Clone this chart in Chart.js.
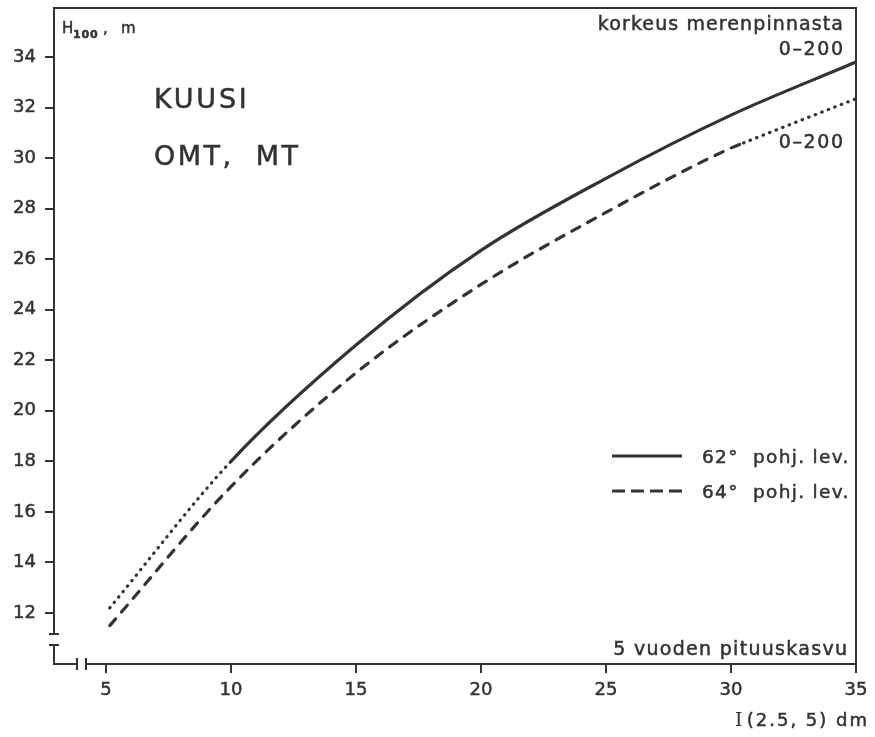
<!DOCTYPE html>
<html>
<head>
<meta charset="utf-8">
<script src="https://cdn.jsdelivr.net/npm/chart.js@4.4.1/dist/chart.umd.min.js"></script>
<style>
  html, body { margin: 0; padding: 0; background: #fff; }
  #wrap { width: 875px; height: 737px; }
</style>
</head>
<body>
<div id="wrap"><canvas id="kuusi"></canvas></div>
<script>
// I(2.5, 5) = 5 vuoden pituuskasvu (dm), H100 = valtapituus (m)
const lev62X = [5.15, 10, 15, 20, 25, 30, 35];
const lev62H = [12.2, 18.0, 22.6, 26.35, 29.2, 31.7, 33.8];
const lev64X = [5.15, 10, 15, 20, 25, 30, 30.5, 35];
const lev64H = [11.5, 17.0, 21.5, 25.0, 27.85, 30.4, 30.6, 32.35];

const xTicks = [5, 10, 15, 20, 25, 30, 35];
const yTicks = [12, 14, 16, 18, 20, 22, 24, 26, 28, 30, 32, 34];
const seriesLabels = ['62°  pohj. lev.', '64°  pohj. lev.'];

// where the curves change to dotted (extrapolated part)
const dot62Below = 10;
const dot64Above = 30.5;

// axis breaks
const yBreak = [10.73, 11.17];
const xBreak = [3.84, 4.2];

const ink = '#333';
const FONT = "'DejaVu Sans', Verdana, sans-serif";
const DASH = [9, 9];
const DOTS = [0.5, 6.5];

function toPoints(xs, ys) {
    return xs.map((x, i) => ({ x: x, y: ys[i] }));
}

function text(ctx, str, x, y, size, align, spacing, weight) {
    ctx.font = (weight || '') + ' ' + size + 'px ' + FONT;
    ctx.textAlign = align || 'left';
    ctx.textBaseline = 'alphabetic';
    ctx.letterSpacing = (spacing || 0) + 'px';
    ctx.fillStyle = ink;
    ctx.strokeStyle = ink;
    ctx.lineWidth = 0.5;
    ctx.setLineDash([]);
    // letterSpacing adds trailing space, shift right-aligned text back
    const dx = align === 'right' ? (spacing || 0) : 0;
    ctx.fillText(str, x + dx, y);
    ctx.strokeText(str, x + dx, y);
    ctx.letterSpacing = '0px';
}

const framePlugin = {
    id: 'frame',
    afterDraw(chart) {
        const ctx = chart.ctx;
        const a = chart.chartArea;
        const xs = chart.scales.x;
        const ys = chart.scales.y;

        ctx.save();
        ctx.strokeStyle = ink;
        ctx.lineWidth = 2;
        ctx.lineCap = 'butt';

        const yb0 = ys.getPixelForValue(yBreak[0]);
        const yb1 = ys.getPixelForValue(yBreak[1]);
        const xb0 = xs.getPixelForValue(xBreak[0]);
        const xb1 = xs.getPixelForValue(xBreak[1]);

        ctx.beginPath();
        // top and right border
        ctx.moveTo(a.left - 1, a.top);
        ctx.lineTo(a.right, a.top);
        ctx.lineTo(a.right, a.bottom);
        // y axis, upper part
        ctx.moveTo(a.left, a.top);
        ctx.lineTo(a.left, yb1);
        ctx.moveTo(a.left - 5, yb1);
        ctx.lineTo(a.left + 5, yb1);
        // y axis, lower part
        ctx.moveTo(a.left - 5, yb0);
        ctx.lineTo(a.left + 5, yb0);
        ctx.moveTo(a.left, yb0);
        ctx.lineTo(a.left, a.bottom);
        // x axis, with break
        ctx.lineTo(xb0, a.bottom);
        ctx.moveTo(xb0, a.bottom - 6);
        ctx.lineTo(xb0, a.bottom + 6);
        ctx.moveTo(xb1, a.bottom - 6);
        ctx.lineTo(xb1, a.bottom + 6);
        ctx.moveTo(xb1, a.bottom);
        ctx.lineTo(a.right, a.bottom);
        ctx.stroke();

        // axis titles and notes
        text(ctx, 'H', 62, 33, 15, 'left');
        text(ctx, '100', 73, 38, 11, 'left', 0.8, 'bold');
        text(ctx, ',', 103, 33, 15, 'left');
        text(ctx, 'm', 121, 33, 15, 'left');

        text(ctx, 'KUUSI', 154, 108, 27, 'left', 2.8);
        text(ctx, 'OMT,  MT', 154, 165, 27, 'left', 2.5);

        text(ctx, 'korkeus merenpinnasta', 843, 30, 19, 'right', 1.1);
        text(ctx, '0–200', 843, 55, 19, 'right', 1.6);
        text(ctx, '0–200', 843, 148, 19, 'right', 1.6);

        text(ctx, '5 vuoden pituuskasvu', 847, 655, 19, 'right', 1.3);

        ctx.font = '19px "DejaVu Serif"';
        ctx.textAlign = 'left';
        ctx.fillStyle = ink;
        ctx.fillText('I', 735, 726);
        text(ctx, '(2.5, 5) dm', 867, 726, 18, 'right', 2);

        // legend
        chart.data.datasets.forEach((ds, i) => {
            const ly = 456 + i * 35;
            ctx.beginPath();
            ctx.lineWidth = 3;
            ctx.lineCap = 'butt';
            ctx.setLineDash(i === 0 ? [] : [13, 6]);
            ctx.moveTo(612, ly);
            ctx.lineTo(682, ly);
            ctx.stroke();
            ctx.setLineDash([]);
            text(ctx, ds.label, 702, ly + 7, 18.5, 'left', 1.3);
        });
        ctx.restore();
    }
};

const tickFont = { family: FONT, size: 18 };

// no label-based padding, chart area is set by layout.padding and afterFit
function noPad(s) {
    s.paddingTop = 0;
    s.paddingBottom = 0;
    s.paddingLeft = 0;
    s.paddingRight = 0;
}

new Chart(document.getElementById('kuusi'), {
    type: 'line',
    data: {
        datasets: [
            {
                label: seriesLabels[0],
                data: toPoints(lev62X, lev62H),
                borderColor: ink,
                borderWidth: 3.2,
                borderCapStyle: 'round',
                pointRadius: 0,
                cubicInterpolationMode: 'monotone',
                segment: {
                    borderDash: c => c.p0.parsed.x < dot62Below ? DOTS : undefined
                }
            },
            {
                label: seriesLabels[1],
                data: toPoints(lev64X, lev64H),
                borderColor: ink,
                borderWidth: 3.2,
                borderCapStyle: 'round',
                borderDash: DASH,
                pointRadius: 0,
                cubicInterpolationMode: 'monotone',
                segment: {
                    borderDash: c => c.p0.parsed.x >= dot64Above ? DOTS : DASH
                }
            }
        ]
    },
    options: {
        responsive: true,
        maintainAspectRatio: false,
        animation: false,
        layout: { padding: { top: 8, right: 19, bottom: 0, left: 0 } },
        plugins: {
            legend: { display: false },
            tooltip: { enabled: false }
        },
        scales: {
            x: {
                type: 'linear',
                min: 2.92,
                max: 35,
                afterBuildTicks: s => { s.ticks = xTicks.map(v => ({ value: v })); },
                afterFit: s => { s.height = 73; noPad(s); },
                border: { display: false },
                grid: { drawOnChartArea: false, tickLength: 9, color: ink, lineWidth: 2 },
                ticks: {
                    font: tickFont, color: ink, padding: 7, maxRotation: 0, autoSkip: false,
                    textStrokeColor: ink, textStrokeWidth: 0.5
                }
            },
            y: {
                min: 9.98,
                max: 35.94,
                afterBuildTicks: s => { s.ticks = yTicks.map(v => ({ value: v })); },
                afterFit: s => { s.width = 54; noPad(s); },
                border: { display: false },
                grid: { drawOnChartArea: false, tickLength: 9, color: ink, lineWidth: 2 },
                ticks: {
                    font: tickFont, color: ink, padding: 9, autoSkip: false,
                    textStrokeColor: ink, textStrokeWidth: 0.5
                }
            }
        }
    },
    plugins: [framePlugin]
});
</script>
</body>
</html>
